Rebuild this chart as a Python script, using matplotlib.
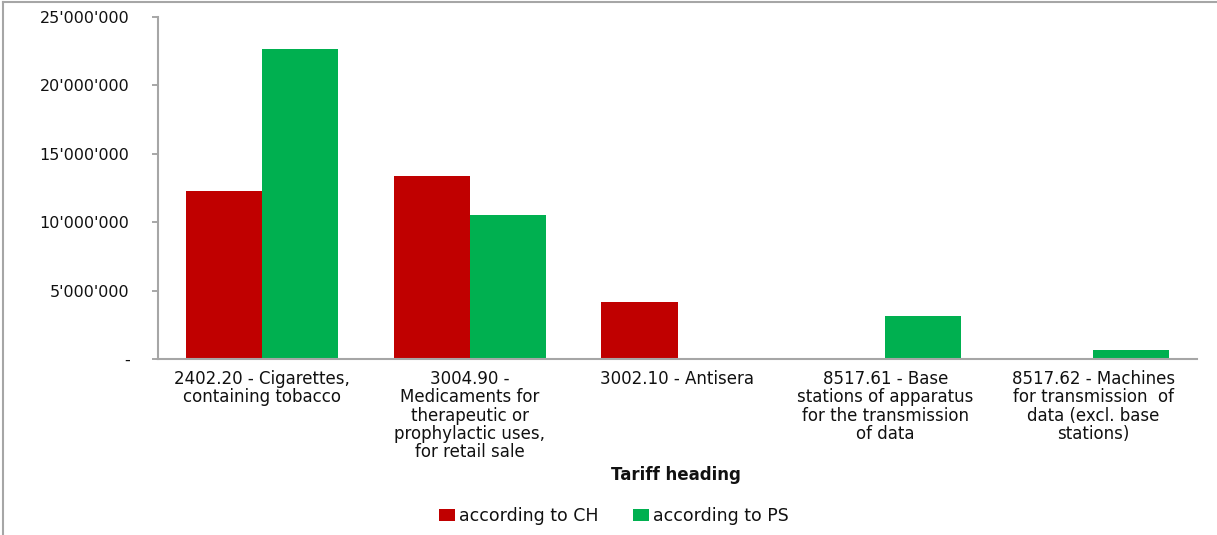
import matplotlib.pyplot as plt
import numpy as np
from matplotlib.lines import Line2D

# Daten
categories = [
    "2402.20 - Cigarettes,\ncontaining tobacco",
    "3004.90 -\nMedicaments for\ntherapeutic or\nprophylactic uses,\nfor retail sale",
    "3002.10 - Antisera",
    "8517.61 - Base\nstations of apparatus\nfor the transmission\nof data",
    "8517.62 - Machines\nfor transmission  of\ndata (excl. base\nstations)",
]
ch_values = [12280000, 13380000, 4170000, 0, 0]
ps_values = [22660000, 10530000, 0, 3140000, 660000]
yticks = [0, 5000000, 10000000, 15000000, 20000000, 25000000]
ytick_labels = ["-", "5'000'000", "10'000'000", "15'000'000", "20'000'000", "25'000'000"]

W, H = 1217, 535
fig = plt.figure(figsize=(W / 100, H / 100), dpi=100)
ax = fig.add_axes([158 / W, 1 - 359 / H, (1197 - 158) / W, (359 - 17) / H])

x = np.arange(len(categories))
w = 0.366
ax.bar(x - w / 2, ch_values, w, color="#c00000", label="according to CH")
ax.bar(x + w / 2, ps_values, w, color="#00b050", label="according to PS")

ax.set_xlim(-0.5, len(categories) - 0.5)
ax.set_ylim(0, 25000000)
ax.set_yticks(yticks)
ax.set_yticklabels(ytick_labels, fontsize=11.5, family="DejaVu Sans", color="#111111")
ax.set_xticks(x)
ax.set_xticklabels(categories, fontsize=12, family="DejaVu Sans", linespacing=1.02,
                   va="top", color="#111111")
ax.tick_params(axis="x", length=0, pad=8)
ax.tick_params(axis="y", length=4.5, color="#a0a0a0", width=1.3, pad=16)

for s in ["top", "right"]:
    ax.spines[s].set_visible(False)
for s in ["left", "bottom"]:
    ax.spines[s].set_color("#a6a6a6")
    ax.spines[s].set_linewidth(1.5)

fig.text(676 / W, 1 - 475 / H, "Tariff heading", ha="center", va="center",
         fontsize=12, fontweight="bold", family="DejaVu Sans", color="#111111")

leg = fig.legend(loc="center", bbox_to_anchor=(614 / W, 1 - 516 / H), ncol=2,
                 frameon=False, prop={"family": "DejaVu Sans", "size": 12.5},
                 handlelength=0.9, handleheight=0.7, handletextpad=0.25, columnspacing=2.0)
for t in leg.get_texts():
    t.set_color("#111111")

# Rahmen links und oben
fig.add_artist(Line2D([2.5 / W, 2.5 / W], [0, 1 - 1.5 / H], transform=fig.transFigure,
                      color="#a6a6a6", linewidth=1.5))
fig.add_artist(Line2D([2.5 / W, 1], [1 - 1.5 / H, 1 - 1.5 / H], transform=fig.transFigure,
                      color="#a6a6a6", linewidth=1.5))

fig.savefig("out.png", dpi=100)
